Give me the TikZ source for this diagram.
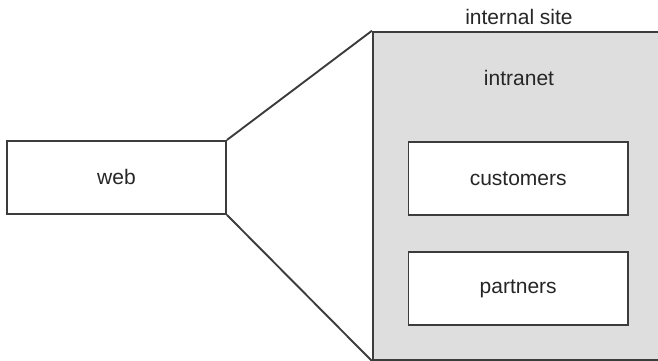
\documentclass[tikz,border=0pt]{standalone}
\usepackage{fontspec}
\setmainfont{Liberation Sans}
\definecolor{edge}{RGB}{60,60,60}
\definecolor{panel}{RGB}{222,222,222}
\begin{document}
\begin{tikzpicture}[x=1pt,y=1pt,
    box/.style={draw=edge, line width=1.9pt, fill=white, rectangle, inner sep=0pt},
    lbl/.style={font=\fontsize{21}{25}\selectfont, text=black!85, inner sep=0pt},
    link/.style={draw=edge, line width=1.9pt}]
  \clip (0,0) rectangle (658,361);
  % internal site panel (runs past the right edge)
  \node[box, fill=panel, minimum width=300pt, minimum height=328.5pt, anchor=north west] (site) at (372,330.3) {};
  \node[lbl] (sitelbl) at (519,344) {internal site};
  \node[lbl] (intra) at (519,283) {intranet};
  % web box
  \node[box, minimum width=219pt, minimum height=73pt, anchor=north west] (web) at (6,221) {};
  \node[lbl] at (web.center) {web};
  % inner boxes
  \node[box, minimum width=219.5pt, minimum height=73.5pt, anchor=north west] (cust) at (407.5,220.3) {};
  \node[lbl] at (cust.center) {customers};
  \node[box, minimum width=219.5pt, minimum height=73.5pt, anchor=north west] (part) at (407.5,110.3) {};
  \node[lbl] at (part.center) {partners};
  % funnel lines
  \draw[link] (web.north east) -- (site.north west);
  \draw[link] (web.south east) -- (site.south west);
\end{tikzpicture}
\end{document}
